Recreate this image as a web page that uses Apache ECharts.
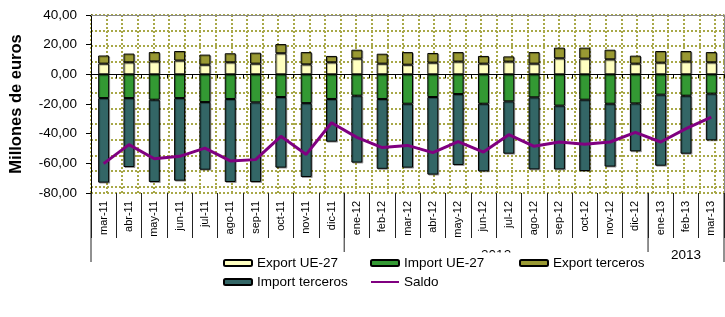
<!DOCTYPE html>
<html>
<head>
<meta charset="utf-8">
<script src="https://cdn.jsdelivr.net/npm/echarts@6/dist/echarts.min.js"></script>
<style>
html,body{margin:0;padding:0;background:#fff;}
#chart{width:725px;height:317px;}
</style>
</head>
<body>
<div id="chart"></div>
<script>
// meses
var categories = ['mar-11','abr-11','may-11','jun-11','jul-11','ago-11','sep-11','oct-11','nov-11','dic-11',
	'ene-12','feb-12','mar-12','abr-12','may-12','jun-12','jul-12','ago-12','sep-12','oct-12','nov-12','dic-12',
	'ene-13','feb-13','mar-13'];

var exportUE = [7.2, 8.1, 8.7, 9.3, 6.5, 8.1, 7.2, 14.2, 6.7, 8.1, 10.6, 7.2, 6.5, 7.9, 8.6, 7.2, 8.6, 7.2, 10.8, 10.6, 10.1, 7.2, 7.9, 8.6, 8.1];
var exportTerceros = [5.5, 5.9, 6.3, 6.4, 6.8, 6.1, 7.4, 6.2, 8.3, 4.3, 6.0, 6.7, 8.5, 6.5, 6.4, 5.2, 3.5, 7.8, 7.2, 7.4, 6.5, 5.4, 7.8, 7.1, 6.9];
var importUE = [-16.0, -16.0, -17.1, -16.0, -18.7, -16.6, -18.9, -15.3, -19.4, -16.6, -14.4, -16.6, -19.8, -15.3, -13.3, -19.8, -18.2, -15.5, -21.1, -17.1, -19.8, -19.6, -13.7, -14.4, -13.0];
var importTerceros = [-57.0, -46.5, -55.5, -55.7, -45.6, -56.0, -53.7, -47.6, -49.8, -28.8, -45.1, -47.1, -43.1, -52.3, -47.8, -45.6, -35.3, -48.6, -43.0, -48.1, -42.4, -32.3, -47.9, -39.1, -31.5];
var saldo = [-60.2, -47.4, -56.9, -55.3, -49.7, -58.4, -57.5, -41.8, -54.0, -32.6, -42.5, -49.4, -47.9, -52.8, -45.4, -52.4, -40.7, -48.5, -45.6, -47.2, -45.6, -39.1, -45.6, -36.6, -28.8];

var fuente = 'Arial, "Liberation Sans", sans-serif';
var chart = echarts.init(document.getElementById('chart'));

function barra(nombre, datos, color){
	return {
		name: nombre,
		type: 'bar',
		stack: 'total',
		barWidth: 11,
		xAxisIndex: 0,
		yAxisIndex: 0,
		itemStyle: {color: color, borderColor: '#000', borderWidth: 1,
			shadowColor: 'rgba(0,0,0,0.3)', shadowOffsetX: 1, shadowOffsetY: 1},
		emphasis: {disabled: true},
		data: datos
	};
}

function leyenda(x, nombres){
	return {left: x, top: 256, padding: 0, orient: 'vertical', itemGap: 5, itemWidth: 28, itemHeight: 6,
		textStyle: {fontSize: 13.5, color: '#000', fontFamily: fuente},
		data: nombres};
}

var option = {
	animation: false,
	textStyle: {fontFamily: fuente},
	grid: {left: 91, right: 1, top: 15, bottom: 124},
	legend: [
		leyenda(223, ['Export UE-27', 'Import terceros']),
		leyenda(370, ['Import UE-27', {name: 'Saldo', itemStyle: {opacity: 0}}]),
		leyenda(519, ['Export terceros'])
	],
	xAxis: [
		{	// eje en el cero
			type: 'category',
			data: categories,
			position: 'bottom',
			axisLine: {onZero: true, onZeroAxisIndex: 0, lineStyle: {color: '#000', width: 1}},
			axisTick: {show: true, interval: 0, length: 4, lineStyle: {color: '#000'}},
			axisLabel: {show: false},
			splitLine: {show: false}
		},
		{	// etiquetas abajo
			type: 'category',
			data: categories,
			position: 'bottom',
			axisLine: {show: false, onZero: false},
			axisTick: {show: true, interval: 0, length: 45, lineStyle: {color: '#222'}},
			axisLabel: {interval: 0, rotate: 90, margin: 8, fontSize: 11, color: '#000', fontFamily: fuente},
			splitLine: {show: false}
		},
		{	// trama de puntos vertical
			type: 'value',
			position: 'top',
			min: 0, max: 633, interval: 15.6,
			axisLine: {show: true, onZero: false, lineStyle: {color: '#888', width: 1}},
			axisTick: {show: false},
			axisLabel: {show: false},
			splitLine: {show: true, lineStyle: {color: '#a8a848', width: 2, type: [2, 2]}}
		}
	],
	yAxis: [
		{
			type: 'value',
			min: -80, max: 40, interval: 20,
			name: 'Millones de euros',
			nameLocation: 'middle',
			nameGap: 66,
			nameTextStyle: {fontSize: 16.5, fontWeight: 'bold', color: '#000', fontFamily: fuente},
			axisLine: {show: true, lineStyle: {color: '#000', width: 1}},
			axisTick: {show: true, length: 5, lineStyle: {color: '#000'}},
			axisLabel: {margin: 14, fontSize: 13.5, color: '#000', fontFamily: fuente,
				formatter: function(v){ return v.toFixed(2).replace('.', ','); }},
			splitLine: {show: false}
		},
		{	// trama de puntos horizontal
			type: 'value',
			position: 'right',
			inverse: true,
			min: 0, max: 178, interval: 15.6,
			axisLine: {show: true, onZero: false, lineStyle: {color: '#888', width: 1}},
			axisTick: {show: false},
			axisLabel: {show: false},
			splitLine: {show: true, lineStyle: {color: '#a8a848', width: 2, type: [2, 2]}}
		}
	],
	series: [
		barra('Export UE-27', exportUE, '#ffffc0'),
		barra('Import UE-27', importUE, '#339933'),
		barra('Export terceros', exportTerceros, '#999933'),
		barra('Import terceros', importTerceros, '#336666'),
		{
			name: 'Saldo',
			type: 'line',
			xAxisIndex: 0,
			yAxisIndex: 0,
			symbol: 'none',
			z: 5,
			lineStyle: {color: '#800080', width: 3},
			itemStyle: {color: '#800080'},
			emphasis: {disabled: true},
			data: saldo
		}
	]
};
chart.setOption(option);

// años y separadores
var px = function(i){ return chart.convertToPixel({xAxisIndex: 1}, categories[i]); };
var paso = px(1) - px(0);
var base = chart.convertToPixel({yAxisIndex: 0}, -80);
var grupos = [];
categories.forEach(function(c, i){
	var anio = '20' + c.split('-')[1];
	if (!grupos.length || grupos[grupos.length - 1].anio !== anio) grupos.push({anio: anio, ini: i, fin: i});
	else grupos[grupos.length - 1].fin = i;
});
var graficos = [];
grupos.forEach(function(g, k){
	var x0 = px(g.ini) - paso / 2, x1 = px(g.fin) + paso / 2;
	graficos.push({type: 'line', z: 1, shape: {x1: x0, y1: base, x2: x0, y2: k === 0 ? 262 : 252}, style: {stroke: '#222', lineWidth: 1}});
	if (k === grupos.length - 1)
		graficos.push({type: 'line', z: 1, shape: {x1: x1, y1: base, x2: x1, y2: 262}, style: {stroke: '#222', lineWidth: 1}});
	graficos.push({type: 'text', z: 1, x: (x0 + x1) / 2, y: 255,
		style: {text: g.anio, fill: '#000', font: '13.5px ' + fuente, align: 'center', verticalAlign: 'middle'}});
});
// fondo blanco de la leyenda (tapa el año 2011 y parte de 2012, como en el original)
graficos.push({type: 'rect', z: 2, shape: {x: 180, y: 252.5, width: 475, height: 50}, style: {fill: '#fff'}});
graficos.push({type: 'rect', z: 2, shape: {x: 180, y: 246, width: 160, height: 8}, style: {fill: '#fff'}});
chart.setOption({graphic: graficos});
</script>
</body>
</html>
